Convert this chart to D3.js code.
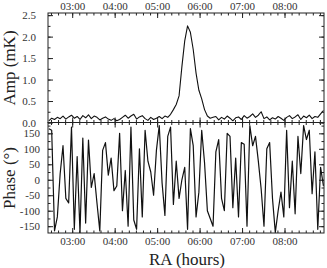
<!DOCTYPE html>
<html>
<head>
<meta charset="utf-8">
<script src="https://cdn.jsdelivr.net/npm/d3@7"></script>
<style>
  body { margin: 0; background: #fff; }
  svg { display: block; font-family: "Liberation Serif", "Times New Roman", Times, serif; }
</style>
</head>
<body>
<div id="chart"></div>
<script>
// RA sampling (hours), one sample every 4 minutes
const raStart = 2.45;
const raStep = 1 / 15;

// amplitude in mK
const amp = [
  0.04, 0.10, 0.07, 0.12, 0.09, 0.15, 0.08, 0.13, 0.17, 0.10,
  0.14, 0.07, 0.16, 0.11, 0.18, 0.09, 0.15, 0.12, 0.06, 0.10,
  0.13, 0.08, 0.05, 0.09, 0.04, 0.07, 0.12, 0.17, 0.10, 0.15,
  0.19, 0.08, 0.13, 0.16, 0.09, 0.05, 0.12, 0.07, 0.10, 0.14,
  0.09, 0.15, 0.12, 0.19, 0.30, 0.42, 0.62, 1.30, 1.90, 2.25,
  2.10, 1.70, 1.15, 0.75, 0.55, 0.30, 0.15, 0.10, 0.12, 0.14,
  0.06, 0.12, 0.08, 0.15, 0.10, 0.04, 0.11, 0.13, 0.07, 0.16,
  0.10, 0.14, 0.20, 0.12, 0.17, 0.25, 0.09, 0.13, 0.06, 0.11,
  0.08, 0.14, 0.10, 0.05, 0.12, 0.16, 0.09, 0.13, 0.18, 0.07,
  0.15, 0.11, 0.17, 0.09, 0.14, 0.12, 0.20, 0.28
];

// phase in degrees
const phase = [
  165, 160, -165, -120, 20, 110, -60, -75, 170, -160,
  75, -170, 135, -140, 128, -25, 20, -75, -165, 95,
  120, 15, 70, -35, -20, 150, -100, 30, -150, 170,
  -130, -160, 100, -120, 160, 60, 25, -50, 95, 175,
  -10, -115, 140, 170, -80, 60, -60, 0, 40, -160,
  165, 110, -120, -40, 160, 55, -100, -125, -150, 90,
  130, -60, -100, 150, 140, -90, 70, -120, 120, 115,
  -150, 175, 110, 140, 60, -30, -150, 100, 120, -60,
  -170, -100, -40, -120, 160, -90, 60, -110, 140, 20,
  175, 130, 160, -45, 90, -160, 40, -20
];

const hourTicks = [3, 4, 5, 6, 7, 8];
const ampTicks = [0, 0.5, 1, 1.5, 2, 2.5];
const phaseTicks = [-150, -100, -50, 0, 50, 100, 150];

const W = 327, H = 268;
const left = 48, right = 324;
const ampTop = 13, mid = 122.5, phBottom = 233;
const ink = "#222";
const serif = '"Liberation Serif", "Times New Roman", Times, serif';

const ampData = amp.map((v, i) => ({ ra: raStart + i * raStep, v: v }));
const phaseData = phase.map((v, i) => ({ ra: raStart + i * raStep, v: v }));

const x = d3.scaleLinear().domain([2.43, 8.93]).range([left, right]);
const yAmp = d3.scaleLinear().domain([0, 2.55]).range([mid, ampTop]);
const yPh = d3.scaleLinear().domain([-172, 185]).range([phBottom, mid]);

const svg = d3.select("#chart").append("svg")
  .attr("width", W).attr("height", H);

const hourFmt = d => "0" + d + ":00";
const minorHours = d3.range(2.5, 8.93, 1 / 6);

// draws inward ticks on all four sides of a panel
function panel(y, top, bottom, yMajor, yMinor, yFmt, yPad, topLabels, bottomLabels, clipId, data, sw) {
  const g = svg.append("g");

  g.append("clipPath").attr("id", clipId)
    .append("rect").attr("x", left).attr("y", top)
    .attr("width", right - left).attr("height", bottom - top);

  // minor ticks
  g.append("g").attr("transform", `translate(0,${bottom})`)
    .call(d3.axisBottom(x).tickValues(minorHours).tickSize(-2.5).tickFormat(""));
  g.append("g").attr("transform", `translate(0,${top})`)
    .call(d3.axisTop(x).tickValues(minorHours).tickSize(-2.5).tickFormat(""));
  g.append("g").attr("transform", `translate(${left},0)`)
    .call(d3.axisLeft(y).tickValues(yMinor).tickSize(-2.5).tickFormat(""));
  g.append("g").attr("transform", `translate(${right},0)`)
    .call(d3.axisRight(y).tickValues(yMinor).tickSize(-2.5).tickFormat(""));

  // major ticks
  g.append("g").attr("transform", `translate(0,${bottom})`)
    .call(d3.axisBottom(x).tickValues(hourTicks).tickSize(-5).tickPadding(4)
      .tickFormat(bottomLabels ? hourFmt : ""));
  g.append("g").attr("transform", `translate(0,${top})`)
    .call(d3.axisTop(x).tickValues(hourTicks).tickSize(-5).tickPadding(3)
      .tickFormat(topLabels ? hourFmt : ""));
  g.append("g").attr("transform", `translate(${left},0)`)
    .call(d3.axisLeft(y).tickValues(yMajor).tickSize(-5).tickPadding(yPad).tickFormat(yFmt));
  g.append("g").attr("transform", `translate(${right},0)`)
    .call(d3.axisRight(y).tickValues(yMajor).tickSize(-5).tickFormat(""));

  g.selectAll(".domain").remove();
  g.selectAll(".tick line").attr("stroke", ink);
  g.selectAll(".tick text").attr("fill", "#333").style("font-size", "11px")
    .style("font-family", serif);

  g.append("rect").attr("x", left).attr("y", top)
    .attr("width", right - left).attr("height", bottom - top)
    .attr("fill", "none").attr("stroke", ink).attr("stroke-width", 1);

  g.append("path").datum(data)
    .attr("clip-path", `url(#${clipId})`)
    .attr("fill", "none").attr("stroke", "#111").attr("stroke-width", sw)
    .attr("stroke-linejoin", "round")
    .attr("d", d3.line().x(d => x(d.ra)).y(d => y(d.v)));
}

panel(yAmp, ampTop, mid, ampTicks, d3.range(0, 2.55, 0.25), d3.format(".1f"), 12,
  true, false, "clipAmp", ampData, 1.1);
panel(yPh, mid, phBottom, phaseTicks, d3.range(-150, 185, 25), d => d, 8,
  false, true, "clipPh", phaseData, 1.2);

svg.append("text")
  .attr("transform", "translate(15,68) rotate(-90)")
  .attr("text-anchor", "middle").attr("fill", ink)
  .style("font-size", "17px").style("font-family", serif)
  .text("Amp (mK)");

svg.append("text")
  .attr("transform", "translate(15,178) rotate(-90)")
  .attr("text-anchor", "middle").attr("fill", ink)
  .style("font-size", "17px").style("font-family", serif)
  .text("Phase (°)");

svg.append("text")
  .attr("x", 187).attr("y", 265)
  .attr("text-anchor", "middle").attr("fill", ink)
  .style("font-size", "17px").style("font-family", serif)
  .text("RA (hours)");
</script>
</body>
</html>
